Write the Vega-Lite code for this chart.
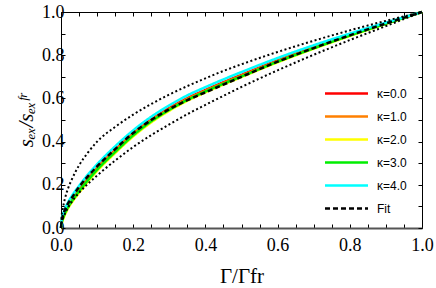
{
  "$schema": "https://vega.github.io/schema/vega-lite/v6.json",
  "width": 361,
  "height": 216,
  "autosize": {"type": "none"},
  "padding": {"left": 61, "top": 12, "right": 14, "bottom": 60},
  "background": "white",
  "config": {
    "view": {"stroke": "black", "strokeWidth": 1},
    "axis": {
      "domain": false,
      "grid": false,
      "ticks": true,
      "tickColor": "black",
      "tickSize": -4,
      "tickWidth": 1,
      "labelFont": "Liberation Serif",
      "labelFontSize": 18,
      "labelColor": "black",
      "labelOverlap": false,
      "labelFlush": false,
      "titleFont": "Liberation Serif",
      "titleFontSize": 21,
      "titleFontWeight": "normal",
      "titleColor": "black"
    },
    "legend": {
      "orient": "none",
      "legendX": 279,
      "legendY": 75,
      "padding": 0,
      "symbolType": "M-4.3,0H4.3",
      "symbolSize": 100,
      "symbolStrokeWidth": 2.5,
      "labelFont": "Liberation Sans",
      "labelFontSize": 12,
      "labelColor": "black",
      "labelOffset": 24,
      "rowPadding": 10,
      "title": null
    }
  },
  "data": {
    "values": [
      {"x": 0, "c0": 0, "c1": 0, "c2": 0, "c3": 0, "c4": 0, "fit": 0, "up": 0, "lo": 0},
      {"x": 0.002, "c0": 0.03, "c1": 0.028, "c2": 0.02, "c3": 0.025, "c4": 0.04, "fit": 0.035, "up": 0.06, "lo": 0.024},
      {"x": 0.005, "c0": 0.05, "c1": 0.047, "c2": 0.037, "c3": 0.042, "c4": 0.06, "fit": 0.055, "up": 0.09, "lo": 0.042},
      {"x": 0.01, "c0": 0.073, "c1": 0.07, "c2": 0.058, "c3": 0.065, "c4": 0.085, "fit": 0.08, "up": 0.13, "lo": 0.063},
      {"x": 0.02, "c0": 0.108, "c1": 0.104, "c2": 0.092, "c3": 0.098, "c4": 0.12, "fit": 0.115, "up": 0.185, "lo": 0.096},
      {"x": 0.03, "c0": 0.135, "c1": 0.131, "c2": 0.118, "c3": 0.124, "c4": 0.148, "fit": 0.14, "up": 0.225, "lo": 0.122},
      {"x": 0.05, "c0": 0.18, "c1": 0.176, "c2": 0.163, "c3": 0.17, "c4": 0.195, "fit": 0.19, "up": 0.29, "lo": 0.163},
      {"x": 0.075, "c0": 0.233, "c1": 0.229, "c2": 0.216, "c3": 0.222, "c4": 0.248, "fit": 0.24, "up": 0.35, "lo": 0.205},
      {"x": 0.1, "c0": 0.28, "c1": 0.276, "c2": 0.264, "c3": 0.27, "c4": 0.295, "fit": 0.285, "up": 0.4, "lo": 0.243},
      {"x": 0.15, "c0": 0.362, "c1": 0.358, "c2": 0.347, "c3": 0.352, "c4": 0.378, "fit": 0.365, "up": 0.468, "lo": 0.312},
      {"x": 0.2, "c0": 0.438, "c1": 0.434, "c2": 0.424, "c3": 0.429, "c4": 0.452, "fit": 0.44, "up": 0.525, "lo": 0.375},
      {"x": 0.25, "c0": 0.502, "c1": 0.498, "c2": 0.489, "c3": 0.494, "c4": 0.515, "fit": 0.5, "up": 0.574, "lo": 0.43},
      {"x": 0.3, "c0": 0.555, "c1": 0.551, "c2": 0.543, "c3": 0.547, "c4": 0.568, "fit": 0.55, "up": 0.618, "lo": 0.48},
      {"x": 0.35, "c0": 0.601, "c1": 0.597, "c2": 0.589, "c3": 0.593, "c4": 0.614, "fit": 0.592, "up": 0.657, "lo": 0.527},
      {"x": 0.4, "c0": 0.639, "c1": 0.635, "c2": 0.628, "c3": 0.632, "c4": 0.652, "fit": 0.628, "up": 0.693, "lo": 0.57},
      {"x": 0.45, "c0": 0.675, "c1": 0.671, "c2": 0.664, "c3": 0.668, "c4": 0.688, "fit": 0.664, "up": 0.727, "lo": 0.612},
      {"x": 0.5, "c0": 0.709, "c1": 0.705, "c2": 0.699, "c3": 0.702, "c4": 0.722, "fit": 0.7, "up": 0.758, "lo": 0.653},
      {"x": 0.6, "c0": 0.776, "c1": 0.772, "c2": 0.767, "c3": 0.77, "c4": 0.787, "fit": 0.77, "up": 0.815, "lo": 0.73},
      {"x": 0.7, "c0": 0.837, "c1": 0.834, "c2": 0.83, "c3": 0.832, "c4": 0.846, "fit": 0.833, "up": 0.867, "lo": 0.802},
      {"x": 0.8, "c0": 0.894, "c1": 0.892, "c2": 0.889, "c3": 0.891, "c4": 0.9, "fit": 0.892, "up": 0.915, "lo": 0.87},
      {"x": 0.9, "c0": 0.948, "c1": 0.947, "c2": 0.945, "c3": 0.946, "c4": 0.951, "fit": 0.947, "up": 0.959, "lo": 0.935},
      {"x": 1, "c0": 1, "c1": 1, "c2": 1, "c3": 1, "c4": 1, "fit": 1, "up": 1, "lo": 1}
    ]
  },
  "transform": [
    {"fold": ["c0", "c1", "c2", "c3", "c4", "fit", "up", "lo"], "as": ["s", "y"]}
  ],
  "layer": [
    {
      "transform": [{"filter": {"field": "s", "oneOf": ["c0", "c1", "c2", "c3", "c4", "fit"]}}],
      "mark": {"type": "line", "interpolate": "monotone"},
      "encoding": {
        "x": {
          "field": "x", "type": "quantitative",
          "scale": {"domain": [0, 1], "nice": false},
          "axis": {
            "orient": "bottom",
            "title": "Γ/Γfr",
            "values": [0, 0.05, 0.1, 0.15, 0.2, 0.25, 0.3, 0.35, 0.4, 0.45, 0.5, 0.55, 0.6, 0.65, 0.7, 0.75, 0.8, 0.85, 0.9, 0.95, 1],
            "labelExpr": "(round(datum.value*100) % 20 == 0) ? format(datum.value, '.1f') : ''",
            "labelPadding": 12,
            "titlePadding": 11,
            "domain": true,
            "domainColor": "#555555",
            "domainWidth": 2
          }
        },
        "y": {
          "field": "y", "type": "quantitative",
          "scale": {"domain": [0, 1], "nice": false},
          "axis": {
            "orient": "left",
            "title": "sₑₓ/sₑₓᶠʳ",
            "titleFontStyle": "italic",
            "values": [0, 0.1, 0.2, 0.3, 0.4, 0.5, 0.6, 0.7, 0.8, 0.9, 1],
            "labelExpr": "(round(datum.value*100) % 20 == 0) ? format(datum.value, '.1f') : ''",
            "labelPadding": 1,
            "titlePadding": 5
          }
        },
        "color": {
          "field": "s", "type": "nominal",
          "scale": {
            "domain": ["c0", "c1", "c2", "c3", "c4", "fit"],
            "range": ["#FF0000", "#FF8000", "#FFFF00", "#00EE00", "#00FFFF", "#000000"]
          },
          "legend": {
            "labelExpr": "datum.value == 'c0' ? 'κ=0.0' : datum.value == 'c1' ? 'κ=1.0' : datum.value == 'c2' ? 'κ=2.0' : datum.value == 'c3' ? 'κ=3.0' : datum.value == 'c4' ? 'κ=4.0' : 'Fit'"
          }
        },
        "strokeDash": {
          "field": "s", "type": "nominal",
          "scale": {
            "domain": ["c0", "c1", "c2", "c3", "c4", "fit"],
            "range": [[1, 0], [1, 0], [1, 0], [1, 0], [1, 0], [5, 3]]
          },
          "legend": {
            "labelExpr": "datum.value == 'c0' ? 'κ=0.0' : datum.value == 'c1' ? 'κ=1.0' : datum.value == 'c2' ? 'κ=2.0' : datum.value == 'c3' ? 'κ=3.0' : datum.value == 'c4' ? 'κ=4.0' : 'Fit'"
          }
        },
        "strokeWidth": {
          "field": "s", "type": "nominal",
          "scale": {
            "domain": ["c0", "c1", "c2", "c3", "c4", "fit"],
            "range": [2.5, 2.5, 2.5, 2.5, 3, 1.6]
          },
          "legend": null
        }
      }
    },
    {
      "transform": [{"filter": {"field": "s", "oneOf": ["up", "lo"]}}],
      "mark": {"type": "line", "interpolate": "monotone", "color": "black", "strokeDash": [2, 2.5], "strokeWidth": 2},
      "encoding": {
        "x": {
          "field": "x", "type": "quantitative",
          "scale": {"domain": [0, 1], "nice": false},
          "axis": {
            "orient": "top",
            "title": null,
            "labels": false,
            "values": [0, 0.05, 0.1, 0.15, 0.2, 0.25, 0.3, 0.35, 0.4, 0.45, 0.5, 0.55, 0.6, 0.65, 0.7, 0.75, 0.8, 0.85, 0.9, 0.95, 1]
          }
        },
        "y": {
          "field": "y", "type": "quantitative",
          "scale": {"domain": [0, 1], "nice": false},
          "axis": {
            "orient": "right",
            "title": null,
            "labels": false,
            "values": [0, 0.1, 0.2, 0.3, 0.4, 0.5, 0.6, 0.7, 0.8, 0.9, 1]
          }
        },
        "detail": {"field": "s", "type": "nominal"}
      }
    }
  ],
  "resolve": {"axis": {"x": "independent", "y": "independent"}}
}
